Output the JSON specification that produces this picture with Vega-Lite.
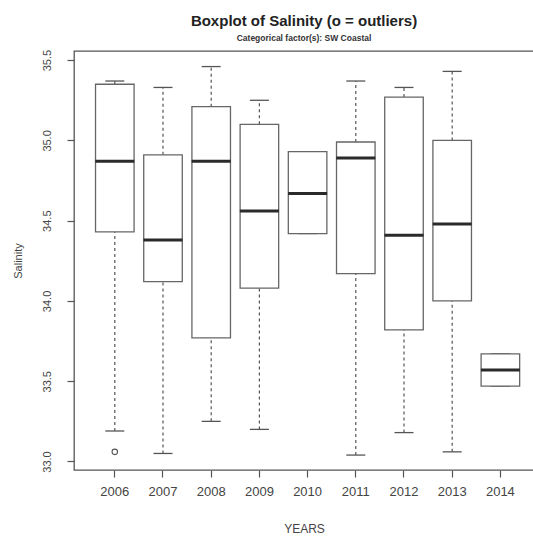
{
  "$schema": "https://vega.github.io/schema/vega-lite/v6.json",
  "autosize": "none",
  "width": 460,
  "height": 419,
  "padding": {"left": 74, "top": 51, "right": 0, "bottom": 66},
  "background": "white",
  "title": {
    "text": "Boxplot of Salinity (o = outliers)",
    "subtitle": "Categorical factor(s):  SW Coastal",
    "anchor": "middle",
    "frame": "group",
    "font": "Liberation Sans",
    "fontSize": 15,
    "fontWeight": "bold",
    "color": "#222222",
    "subtitleFont": "Liberation Sans",
    "subtitleFontSize": 8.5,
    "subtitleFontWeight": "bold",
    "subtitleColor": "#333333",
    "subtitlePadding": 5,
    "offset": 7
  },
  "config": {
    "font": "Liberation Sans",
    "view": {"stroke": "#555555", "strokeWidth": 1.3},
    "axis": {
      "domain": false,
      "grid": false,
      "tickColor": "#555555",
      "tickSize": 7,
      "tickWidth": 1.2,
      "labelColor": "#444444",
      "titleColor": "#444444",
      "titleFontWeight": "normal",
      "labelFont": "Liberation Sans",
      "titleFont": "Liberation Sans"
    },
    "axisX": {"labelAngle": 0, "labelFontSize": 13, "labelPadding": 8, "titleFontSize": 12, "titlePadding": 25},
    "axisY": {"labelAngle": -90, "labelFontSize": 11, "labelPadding": 15, "titleFontSize": 11, "titlePadding": 18}
  },
  "datasets": {
    "stats": [
      {"year": "2006", "lo": 33.19, "q1": 34.43, "median": 34.87, "q3": 35.35, "hi": 35.37},
      {"year": "2007", "lo": 33.05, "q1": 34.12, "median": 34.38, "q3": 34.91, "hi": 35.33},
      {"year": "2008", "lo": 33.25, "q1": 33.77, "median": 34.87, "q3": 35.21, "hi": 35.46},
      {"year": "2009", "lo": 33.20, "q1": 34.08, "median": 34.56, "q3": 35.10, "hi": 35.25},
      {"year": "2010", "lo": 34.42, "q1": 34.42, "median": 34.67, "q3": 34.93, "hi": 34.93},
      {"year": "2011", "lo": 33.04, "q1": 34.17, "median": 34.89, "q3": 34.99, "hi": 35.37},
      {"year": "2012", "lo": 33.18, "q1": 33.82, "median": 34.41, "q3": 35.27, "hi": 35.33},
      {"year": "2013", "lo": 33.06, "q1": 34.00, "median": 34.48, "q3": 35.00, "hi": 35.43},
      {"year": "2014", "lo": 33.47, "q1": 33.47, "median": 33.57, "q3": 33.67, "hi": 33.67}
    ],
    "outliers": [
      {"year": "2006", "salinity": 33.06}
    ]
  },
  "encoding": {
    "x": {
      "field": "year",
      "type": "nominal",
      "title": "YEARS",
      "scale": {
        "domain": ["2006", "2007", "2008", "2009", "2010", "2011", "2012", "2013", "2014"],
        "paddingInner": 0,
        "paddingOuter": 0.272,
        "align": 0.637
      }
    }
  },
  "layer": [
    {
      "data": {"name": "stats"},
      "mark": {"type": "rule", "color": "#555555", "strokeWidth": 1.2, "strokeDash": [3, 3]},
      "encoding": {
        "y": {"field": "lo", "type": "quantitative", "title": "Salinity",
              "scale": {"domain": [32.947, 35.557], "nice": false, "zero": false},
              "axis": {"values": [33.0, 33.5, 34.0, 34.5, 35.0, 35.5], "format": ".1f"}},
        "y2": {"field": "q1"}
      }
    },
    {
      "data": {"name": "stats"},
      "mark": {"type": "rule", "color": "#555555", "strokeWidth": 1.2, "strokeDash": [3, 3]},
      "encoding": {
        "y": {"field": "q3", "type": "quantitative", "title": "Salinity"},
        "y2": {"field": "hi"}
      }
    },
    {
      "data": {"name": "stats"},
      "mark": {"type": "tick", "size": 19, "thickness": 1.3, "color": "#555555", "opacity": 1},
      "encoding": {"y": {"field": "lo", "type": "quantitative", "title": "Salinity"}}
    },
    {
      "data": {"name": "stats"},
      "mark": {"type": "tick", "size": 19, "thickness": 1.3, "color": "#555555", "opacity": 1},
      "encoding": {"y": {"field": "hi", "type": "quantitative", "title": "Salinity"}}
    },
    {
      "data": {"name": "stats"},
      "mark": {"type": "bar", "width": {"band": 0.8}, "fill": "white", "stroke": "#666666", "strokeWidth": 1.3},
      "encoding": {
        "y": {"field": "q1", "type": "quantitative", "title": "Salinity"},
        "y2": {"field": "q3"}
      }
    },
    {
      "data": {"name": "stats"},
      "mark": {"type": "tick", "size": 39, "thickness": 3, "color": "#2a2a2a", "opacity": 1},
      "encoding": {"y": {"field": "median", "type": "quantitative", "title": "Salinity"}}
    },
    {
      "data": {"name": "outliers"},
      "mark": {"type": "point", "shape": "circle", "filled": false, "size": 30, "color": "#555555", "strokeWidth": 1.1, "opacity": 1},
      "encoding": {"y": {"field": "salinity", "type": "quantitative", "title": "Salinity"}}
    }
  ]
}
